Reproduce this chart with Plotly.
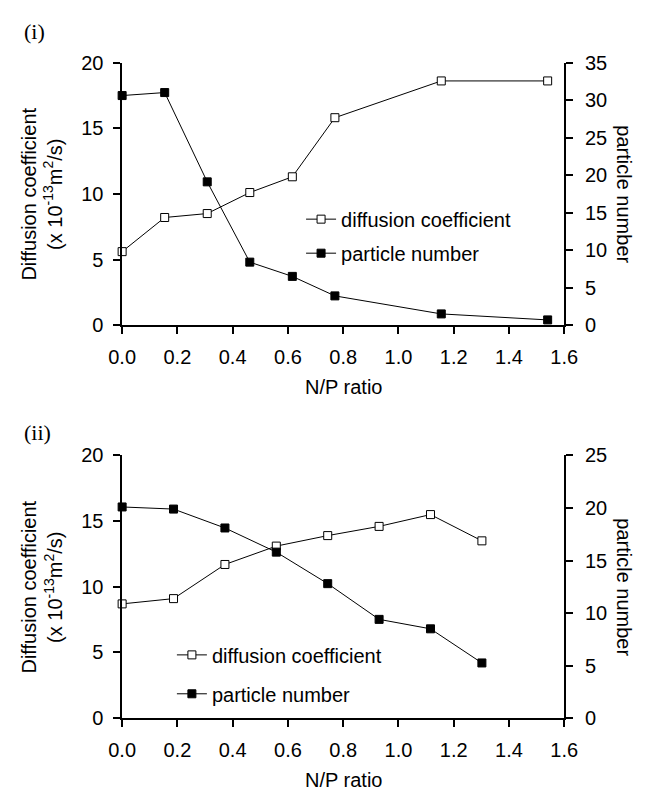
import plotly.graph_objects as go

# ---------------- data ----------------
np_ratio_i = [0.0, 0.154, 0.308, 0.462, 0.616, 0.77, 1.155, 1.54]
diffusion_i = [5.6, 8.2, 8.5, 10.1, 11.3, 15.8, 18.6, 18.6]
particles_i = [30.6, 31.0, 19.1, 8.4, 6.5, 3.9, 1.5, 0.7]

np_ratio_ii = [0.0, 0.186, 0.372, 0.558, 0.744, 0.93, 1.116, 1.302]
diffusion_ii = [8.7, 9.1, 11.7, 13.1, 13.9, 14.6, 15.5, 13.5]
particles_ii = [20.1, 19.9, 18.1, 15.8, 12.8, 9.4, 8.5, 5.25]

x_ticks = [0.0, 0.2, 0.4, 0.6, 0.8, 1.0, 1.2, 1.4, 1.6]
x_ticklabels = ["0.0", "0.2", "0.4", "0.6", "0.8", "1.0", "1.2", "1.4", "1.6"]

# ---------------- style ----------------
W, H = 650, 804
FONT = "Liberation Sans, Arial, sans-serif"
FS = 20
BLACK = "black"

def px_x(p):
    return p / W

def px_y(p):
    return 1 - p / H

x_dom = [px_x(113), px_x(575)]
top_dom = [px_y(323), px_y(53)]
bot_dom = [px_y(727), px_y(457)]

fig = go.Figure()

open_marker = dict(symbol="square", size=8, color="white", line=dict(color=BLACK, width=1))
fill_marker = dict(symbol="square", size=8, color=BLACK, line=dict(color=BLACK, width=1))
line_style = dict(color=BLACK, width=1)

# panel (i)
fig.add_trace(go.Scatter(x=np_ratio_i, y=diffusion_i, mode="lines+markers", name="diffusion coefficient",
                         marker=open_marker, line=line_style, xaxis="x", yaxis="y",
                         cliponaxis=False, legend="legend"))
fig.add_trace(go.Scatter(x=np_ratio_i, y=particles_i, mode="lines+markers", name="particle number",
                         marker=fill_marker, line=line_style, xaxis="x", yaxis="y2",
                         cliponaxis=False, legend="legend2"))
# panel (ii)
fig.add_trace(go.Scatter(x=np_ratio_ii, y=diffusion_ii, mode="lines+markers", name="diffusion coefficient",
                         marker=open_marker, line=line_style, xaxis="x2", yaxis="y4",
                         cliponaxis=False, legend="legend3"))
fig.add_trace(go.Scatter(x=np_ratio_ii, y=particles_ii, mode="lines+markers", name="particle number",
                         marker=fill_marker, line=line_style, xaxis="x2", yaxis="y5",
                         cliponaxis=False, legend="legend4"))
# re-draw diffusion on top so open squares sit above the other line
fig.data = (fig.data[1], fig.data[0], fig.data[3], fig.data[2])

tickfont = dict(family=FONT, size=FS, color=BLACK)

def xaxis(anchor):
    return dict(domain=x_dom, anchor=anchor, range=[0, 1.6], tickvals=x_ticks, ticktext=x_ticklabels,
                ticks="outside", ticklen=7, tickwidth=1.5, tickcolor=BLACK,
                showline=True, linecolor=BLACK, linewidth=1.5, showgrid=False, zeroline=False,
                tickfont=tickfont, ticklabelstandoff=6, fixedrange=True)

def yleft(dom, anchor):
    return dict(domain=dom, anchor=anchor, range=[0, 20], dtick=5, tick0=0,
                ticks="outside", ticklen=7, tickwidth=1.5, tickcolor=BLACK,
                showline=True, linecolor=BLACK, linewidth=1.5, showgrid=False, zeroline=False,
                tickfont=tickfont, ticklabelstandoff=6)

def yright(over, anchor, top, ticks="outside", labels=True):
    return dict(overlaying=over, anchor=anchor, side="right", range=[0, top], dtick=5, tick0=0,
                ticks=ticks, ticklen=7, tickwidth=1.5, tickcolor=BLACK,
                showline=True, linecolor=BLACK, linewidth=1.5, showgrid=False, zeroline=False,
                showticklabels=labels, tickfont=tickfont, ticklabelstandoff=8)

def legend_at(xp, yp):
    return dict(x=px_x(xp), y=px_y(yp), xanchor="left", yanchor="middle",
                bgcolor="rgba(0,0,0,0)", borderwidth=0,
                font=dict(family=FONT, size=FS, color=BLACK), itemwidth=30)

fig.update_layout(
    width=W, height=H, margin=dict(l=0, r=0, t=0, b=0),
    paper_bgcolor="white", plot_bgcolor="white",
    font=dict(family=FONT, size=FS, color=BLACK),
    xaxis=xaxis("y"),
    yaxis=yleft(top_dom, "x"),
    yaxis2=yright("y", "x", 35),
    yaxis3=yright("y", "x", 35, ticks="inside", labels=False),
    xaxis2=xaxis("y4"),
    yaxis4=yleft(bot_dom, "x2"),
    yaxis5=yright("y4", "x2", 25),
    yaxis6=yright("y4", "x2", 25, ticks="inside", labels=False),
    legend=legend_at(300, 214),
    legend2=legend_at(300, 249),
    legend3=legend_at(165, 662),
    legend4=legend_at(165, 702),
    showlegend=True,
)

ylab = "Diffusion coefficient<br>(x 10<sup>-13</sup>m<sup>2</sup>/s)"
annos = []
for (ptag, ptop, lab_y, tit_y) in [("(i)", 53, 21, 387), ("(ii)", 457, 433, 791)]:
    mid = ptop + 135
    annos.append(dict(text=ptag, x=px_x(8), y=px_y(lab_y), xref="paper", yref="paper",
                      xanchor="left", yanchor="middle", showarrow=False,
                      font=dict(family="Liberation Serif, Times New Roman, serif", size=22, color=BLACK)))
    annos.append(dict(text=ylab, x=px_x(29), y=px_y(mid), xref="paper", yref="paper",
                      xanchor="center", yanchor="middle", showarrow=False, textangle=-90,
                      font=dict(family=FONT, size=FS, color=BLACK)))
    annos.append(dict(text="particle number", x=px_x(638), y=px_y(mid), xref="paper", yref="paper",
                      xanchor="center", yanchor="middle", showarrow=False, textangle=90,
                      font=dict(family=FONT, size=FS, color=BLACK)))
    annos.append(dict(text="N/P ratio", x=px_x(344), y=px_y(tit_y), xref="paper", yref="paper",
                      xanchor="center", yanchor="middle", showarrow=False,
                      font=dict(family=FONT, size=FS, color=BLACK)))
fig.update_layout(annotations=annos)

fig.write_html("out.html")
